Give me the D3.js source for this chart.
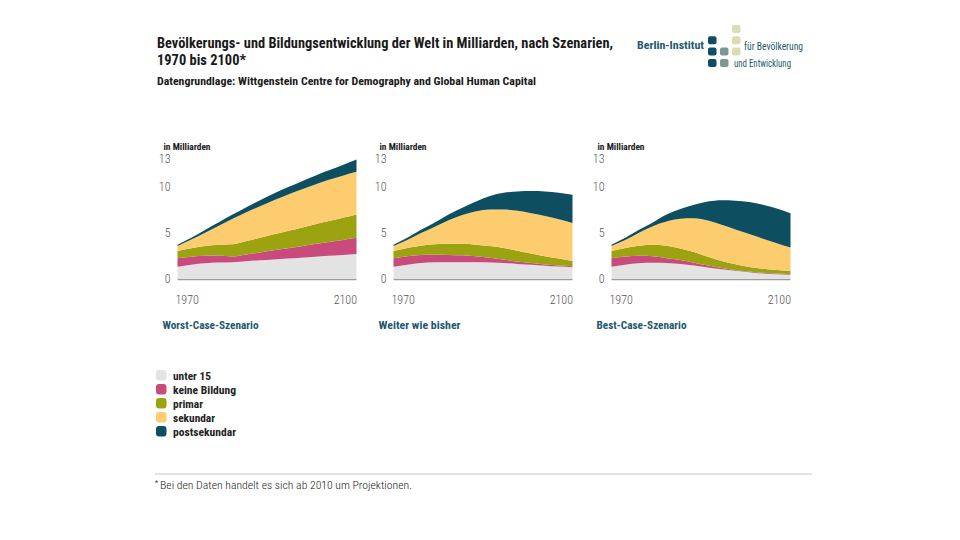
<!DOCTYPE html>
<html><head><meta charset="utf-8">
<script src="https://cdn.jsdelivr.net/npm/d3@7"></script>
<style>
body{margin:0;background:#fff}
svg{display:block}
text{font-family:'Liberation Sans Narrow','Roboto Condensed',Roboto,'DejaVu Sans',sans-serif}
</style>
</head><body>
<svg id="chart" width="960" height="540"></svg>
<script>
// ---------- DATA (Milliarden) ----------
const years = [1970,1980,1990,2000,2010,2020,2030,2040,2050,2060,2070,2080,2090,2100];
const categories = ["unter 15","keine Bildung","primar","sekundar","postsekundar"];
const scenarios = ["Worst-Case-Szenario","Weiter wie bisher","Best-Case-Szenario"];
const yTicks = [0,5,10,13];
const xTickYears = [1970,2100];

// Worst-Case-Szenario
const worstUnter15   = [1.33,1.55,1.70,1.78,1.82,1.92,2.01,2.11,2.21,2.30,2.40,2.50,2.59,2.69];
const worstKeine     = [0.90,0.86,0.81,0.76,0.62,0.72,0.85,0.98,1.11,1.24,1.37,1.50,1.63,1.76];
const worstPrimar    = [0.79,0.90,1.05,1.16,1.30,1.46,1.60,1.73,1.86,2.00,2.13,2.25,2.39,2.52];
const worstSekundar  = [0.54,0.94,1.44,2.05,2.76,3.10,3.39,3.68,3.92,4.11,4.30,4.45,4.54,4.59];
const worstPost      = [0.14,0.20,0.28,0.36,0.45,0.55,0.65,0.72,0.80,0.88,0.95,1.02,1.15,1.34];

// Weiter wie bisher
const trendUnter15   = [1.33,1.55,1.72,1.80,1.82,1.82,1.80,1.78,1.72,1.62,1.53,1.43,1.34,1.27];
const trendKeine     = [0.90,0.90,0.86,0.82,0.78,0.73,0.65,0.52,0.38,0.28,0.19,0.14,0.11,0.11];
const trendPrimar    = [0.79,0.90,1.02,1.13,1.20,1.25,1.25,1.25,1.25,1.15,1.03,0.88,0.75,0.57];
const trendSekundar  = [0.54,0.85,1.35,1.90,2.55,3.10,3.60,3.95,4.15,4.30,4.35,4.35,4.25,4.10];
const trendPost      = [0.14,0.25,0.35,0.45,0.60,0.80,1.05,1.45,1.80,2.10,2.40,2.65,2.85,3.05];

// Best-Case-Szenario
const bestUnter15    = [1.33,1.55,1.70,1.75,1.72,1.62,1.45,1.25,1.05,0.88,0.73,0.60,0.52,0.46];
const bestKeine      = [0.90,0.87,0.80,0.70,0.53,0.43,0.30,0.20,0.15,0.10,0.07,0.07,0.06,0.06];
const bestPrimar     = [0.79,0.93,1.10,1.25,1.35,1.25,1.15,0.95,0.75,0.62,0.50,0.43,0.40,0.38];
const bestSekundar   = [0.54,0.85,1.40,2.00,2.60,3.20,3.65,3.90,3.90,3.75,3.55,3.25,2.87,2.50];
const bestPost       = [0.14,0.25,0.30,0.40,0.75,1.05,1.45,2.05,2.65,3.10,3.45,3.65,3.75,3.70];

const scenarioSeries = [
  [worstUnter15, worstKeine, worstPrimar, worstSekundar, worstPost],
  [trendUnter15, trendKeine, trendPrimar, trendSekundar, trendPost],
  [bestUnter15,  bestKeine,  bestPrimar,  bestSekundar,  bestPost]
];

// ---------- STYLE ----------
const colors = ["#e4e3e4","#c94b7e","#9ba410","#fdcc6f","#0d4e61"];
const teal = "#1d5a6c";
const svg = d3.select("#chart");

function txt(x, y, s, o) {
  const t = svg.append("text").attr("x", x).attr("y", y).text(s)
    .attr("font-size", o.size).attr("font-weight", o.weight || 400)
    .attr("fill", o.fill || "#1a1a1a")
    .attr("text-anchor", o.anchor || "start");
  if (o.w) t.attr("textLength", o.w).attr("lengthAdjust", "spacingAndGlyphs");
  return t;
}

// ---------- TITLE ----------
txt(157, 47.5, "Bevölkerungs- und Bildungsentwicklung der Welt in Milliarden, nach Szenarien,", {size:15, weight:700, w:456});
txt(157, 64.5, "1970 bis 2100*", {size:15, weight:700, w:89});
txt(157, 85, "Datengrundlage: Wittgenstein Centre for Demography and Global Human Capital", {size:11.5, weight:700, w:379});

// ---------- LOGO ----------
txt(637, 49, "Berlin-Institut", {size:11, weight:700, fill:teal, w:67});
txt(744, 49.5, "für Bevölkerung", {size:10, weight:400, fill:teal, w:59});
txt(734, 66.5, "und Entwicklung", {size:10, weight:400, fill:teal, w:57});
const logoSquares = [
  {c:0,r:1,f:"#0f4e62"},{c:0,r:2,f:"#0f4e62"},{c:0,r:3,f:"#0f4e62"},
  {c:1,r:2,f:"#7f9695"},{c:1,r:3,f:"#7f9695"},
  {c:2,r:0,f:"#dcdcb4"},{c:2,r:1,f:"#dcdcb4"},{c:2,r:2,f:"#dcdcb4"}
];
svg.append("g").selectAll("rect").data(logoSquares).join("rect")
  .attr("x", d => 708 + d.c*12).attr("y", d => 25 + d.r*11.3)
  .attr("width", 8.5).attr("height", 8).attr("rx", 2).attr("fill", d => d.f);

// ---------- PANELS ----------
const panelW = 179;
const panelLefts = [177.5, 393.5, 611.5];
const titleW = [96, 82, 90];
const y = d3.scaleLinear().domain([0,13]).range([279, 158.5]);

scenarios.forEach((name, si) => {
  const left = panelLefts[si];
  const x = d3.scaleLinear().domain([years[0], years[years.length-1]]).range([left, left + panelW]);
  const table = years.map((yr, i) => {
    const row = {year: yr};
    categories.forEach((c, ci) => row[c] = scenarioSeries[si][ci][i]);
    return row;
  });
  const stacked = d3.stack().keys(categories)(table);
  const area = d3.area()
    .x(d => x(d.data.year)).y0(d => y(d[0])).y1(d => y(d[1]))
    .curve(d3.curveMonotoneX);
  const g = svg.append("g");
  g.selectAll("path.layer").data(stacked).join("path")
    .attr("class","layer").attr("d", area)
    .attr("fill", (d,i) => colors[i]);

  // baseline
  g.append("line").attr("x1", left).attr("x2", left + panelW)
    .attr("y1", y(0) + 0.6).attr("y2", y(0) + 0.6)
    .attr("stroke", "#9c9c9c").attr("stroke-width", 1.3);

  // y axis
  const ya = svg.append("g").attr("transform", `translate(${left - 7},0)`)
    .call(d3.axisLeft(y).tickValues(yTicks).tickSize(0).tickPadding(0));
  ya.select(".domain").remove();
  ya.selectAll("text").attr("font-size", 12).attr("font-weight", 300)
    .attr("fill", "#555").attr("font-family", "Roboto, sans-serif");

  // x axis
  const xa = svg.append("g").attr("transform", `translate(0,${y(0)})`)
    .call(d3.axisBottom(x).tickValues(xTickYears).tickFormat(d3.format("d")).tickSize(0).tickPadding(0));
  xa.select(".domain").remove();
  xa.selectAll("text").attr("font-size", 12).attr("font-weight", 300)
    .attr("fill", "#555").attr("font-family", "Roboto, sans-serif")
    .attr("y", 25).attr("dy", 0)
    .attr("text-anchor", (d,i) => i === 0 ? "start" : "end")
    .attr("dx", (d,i) => i === 0 ? -2.5 : 0);

  txt(left - 14, 150, "in Milliarden", {size:8.5, weight:700, w:47});
  txt(left - 15, 328.5, name, {size:11.5, weight:700, fill:teal, w:titleW[si]});
});

// ---------- LEGEND ----------
const legendW = [38, 63, 30, 42, 63];
const lg = svg.append("g");
categories.forEach((c, i) => {
  lg.append("rect").attr("x", 156).attr("y", 370 + i*14)
    .attr("width", 10.5).attr("height", 10.5).attr("rx", 3).attr("fill", colors[i]);
  txt(173, 379.5 + i*14, c, {size:11, weight:700, fill:"#222", w:legendW[i]});
});

// ---------- FOOTNOTE ----------
svg.append("line").attr("x1", 155).attr("x2", 812).attr("y1", 474).attr("y2", 474)
  .attr("stroke", "#c8c8c8").attr("stroke-width", 1);
txt(155, 485, "*", {size:7, weight:400, fill:"#333"});
txt(160, 489, "Bei den Daten handelt es sich ab 2010 um Projektionen.", {size:10.5, weight:300, fill:"#222", w:252});
</script>
</body></html>
